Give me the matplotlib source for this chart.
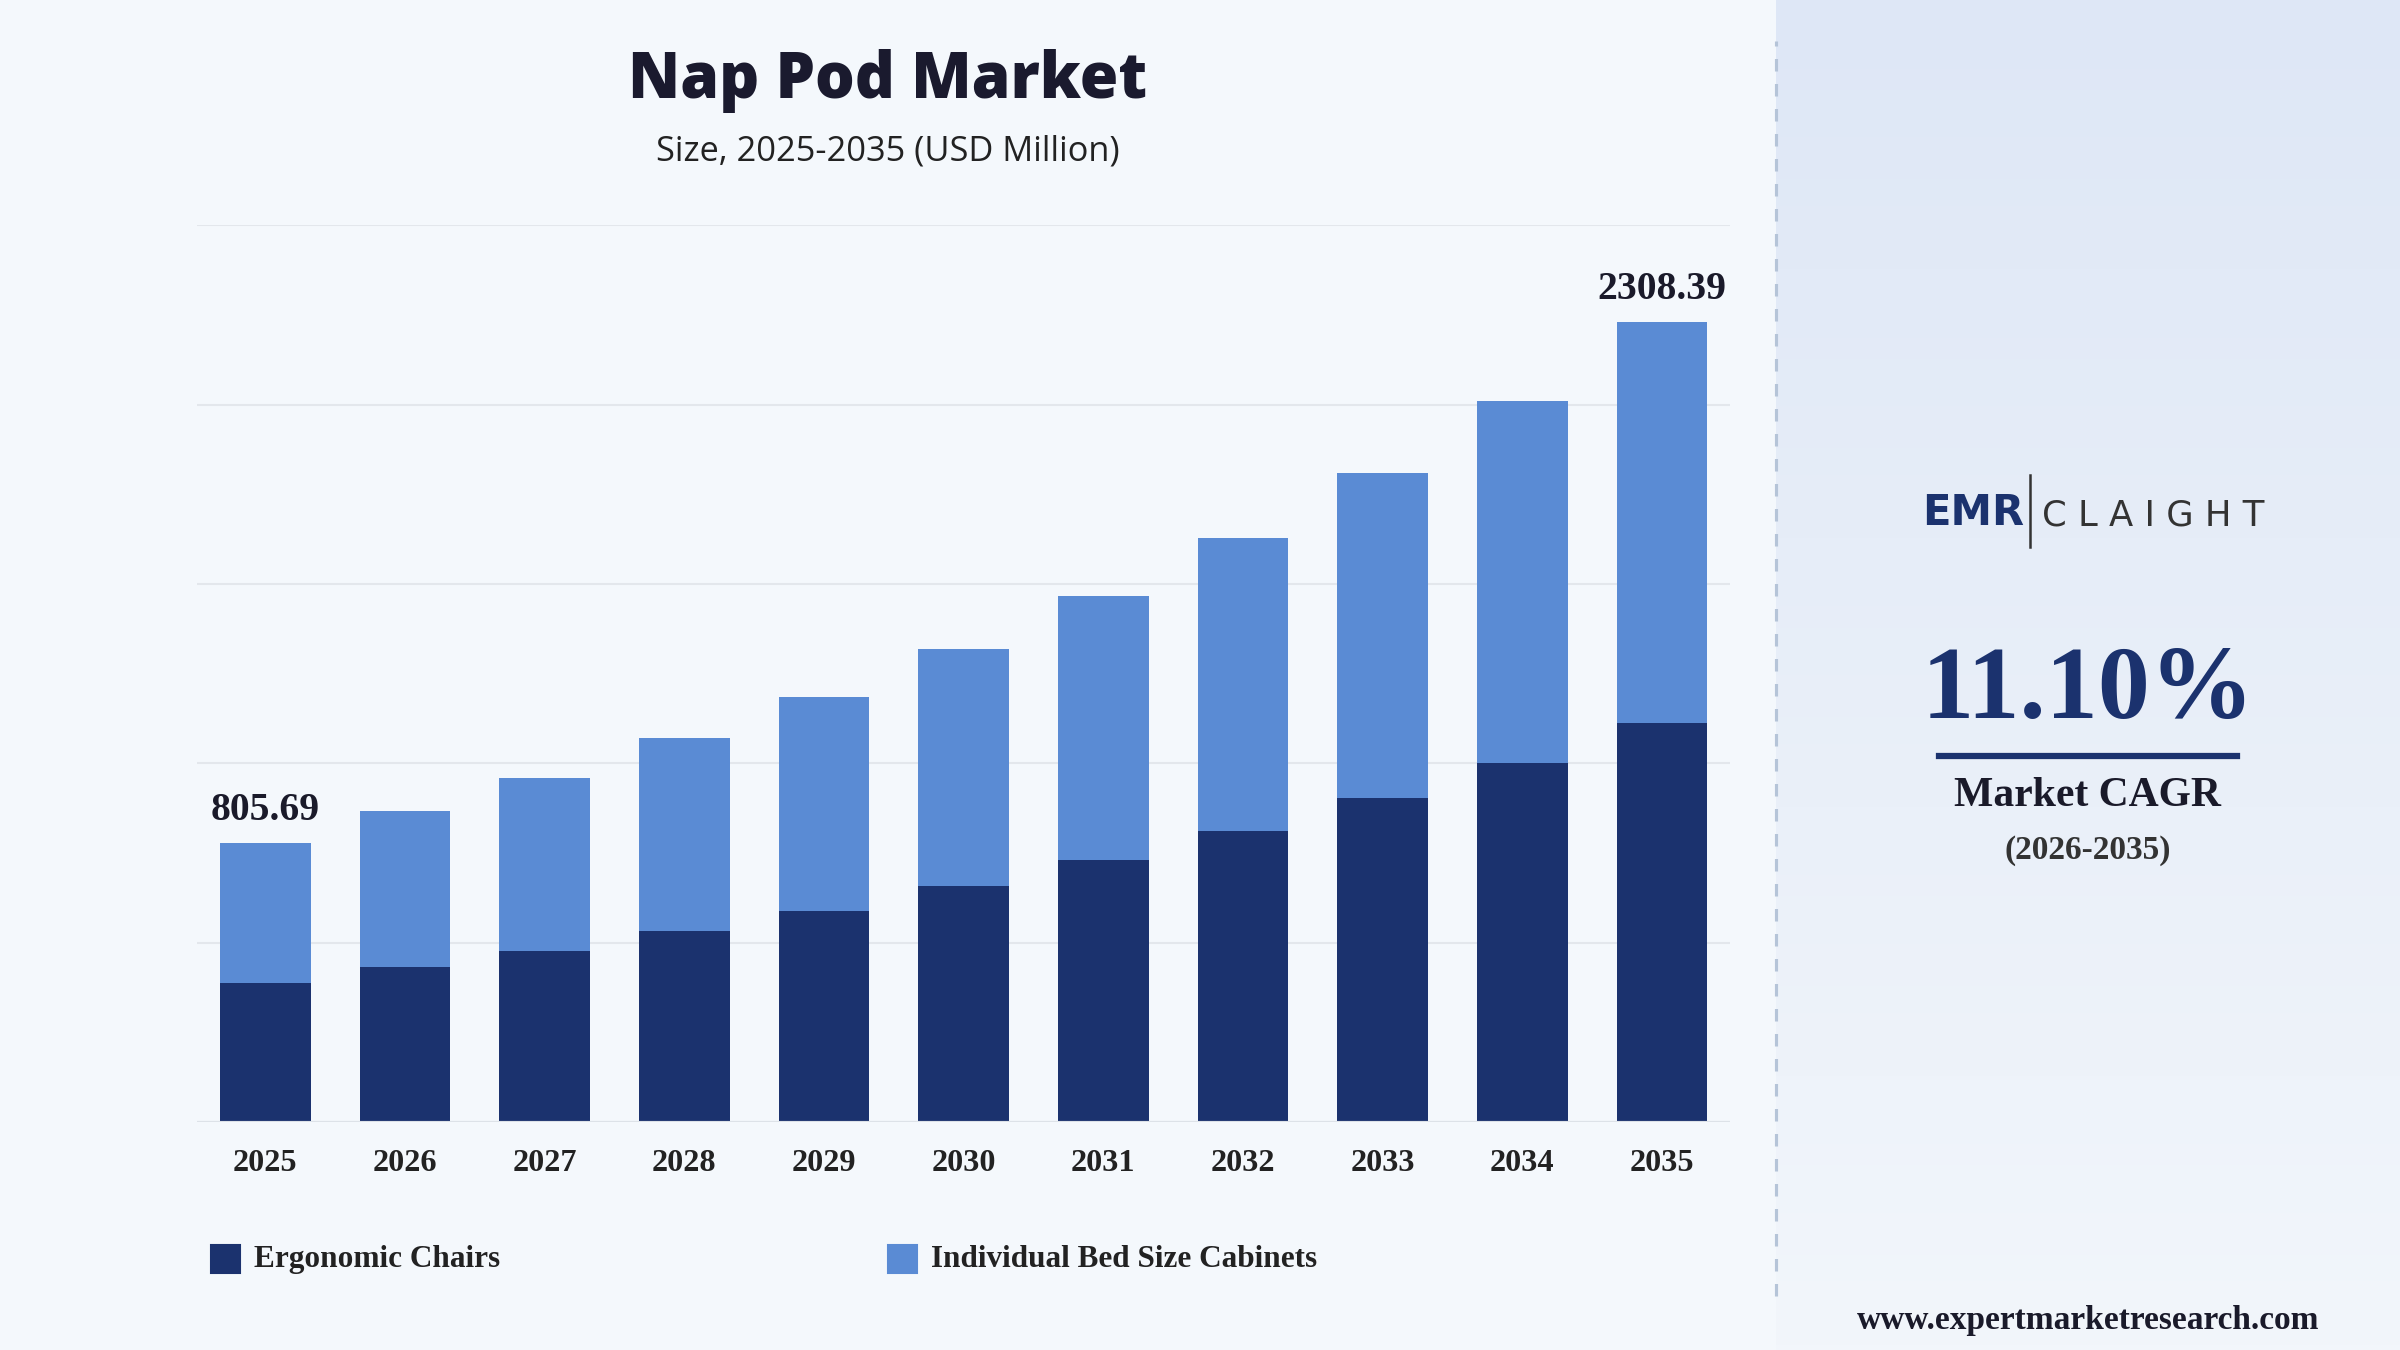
import matplotlib
matplotlib.use("Agg")
import matplotlib.pyplot as plt
import numpy as np
from matplotlib.lines import Line2D
from matplotlib.colors import LinearSegmentedColormap

years = ["2025","2026","2027","2028","2029","2030","2031","2032","2033","2034","2035"]
totals = [805.69, 896, 993, 1108, 1227, 1364, 1518, 1686, 1872, 2079, 2308.39]
ergonomic = [402, 446, 494, 552, 609, 680, 755, 839, 936, 1037, 1152]
cabinets = [t - e for t, e in zip(totals, ergonomic)]
series_names = ["Ergonomic Chairs", "Individual Bed Size Cabinets"]
dark, light = "#1b326e", "#5a8bd4"

fig = plt.figure(figsize=(16, 9), dpi=150)
fig.patch.set_facecolor("#f4f8fc")
bg = fig.add_axes([0.74, 0, 0.26, 1], zorder=0)
grad = np.linspace(0, 1, 256).reshape(-1, 1)
cm = LinearSegmentedColormap.from_list("g", ["#f2f6fb", "#dee7f6"])
bg.imshow(grad, aspect="auto", cmap=cm, extent=[0, 1, 0, 1], origin="lower")
bg.axis("off")
fig.add_artist(Line2D([0.74, 0.74], [0.04, 0.97], color="#b5c4d8", lw=1.5, ls=(0, (4, 4))))

ax = fig.add_axes([0.082, 0.169, 0.639, 0.664])
ax.set_facecolor("none")
x = np.arange(len(years))
ymax = 2587
ax.bar(x, ergonomic, 0.65, color=dark, zorder=3)
ax.bar(x, cabinets, 0.65, bottom=ergonomic, color=light, zorder=3)
ax.set_ylim(0, ymax)
ax.set_xlim(-0.49, len(years) - 0.51)
ax.set_yticks(np.linspace(0, ymax, 6))
ax.yaxis.grid(True, color="#e3e7ec", lw=1, zorder=0)
ax.tick_params(axis="y", length=0, labelleft=False)
ax.tick_params(axis="x", length=0, pad=13)
ax.set_xticks(x)
ax.set_xticklabels(years, fontfamily="Liberation Serif", fontweight="bold", fontsize=15.5, color="#222")
for s in ax.spines.values():
    s.set_visible(False)
ax.axhline(0, color="#dde2e8", lw=1.5, zorder=4)
for i in (0, len(years) - 1):
    ax.text(x[i], totals[i] + 40, f"{totals[i]:.2f}", ha="center", va="bottom",
            fontfamily="Liberation Serif", fontweight="bold", fontsize=19, color="#1a1a2a")

fig.text(0.37, 0.94, "Nap Pod Market", ha="center", va="center", fontsize=30, fontweight="heavy",
         color="#1a1a2e", fontfamily="Open Sans")
fig.text(0.37, 0.888, "Size, 2025-2035 (USD Million)", ha="center", va="center", fontsize=16.5,
         color="#222", fontfamily="Open Sans")

for xx, col, name in [(0.088, dark, series_names[0]), (0.370, light, series_names[1])]:
    fig.patches.append(plt.Rectangle((xx, 0.057), 0.012, 0.021, color=col, transform=fig.transFigure))
    fig.text(xx + 0.018, 0.067, name, va="center", fontfamily="Liberation Serif", fontweight="bold",
             fontsize=15, color="#222")

fig.text(0.822, 0.62, "EMR", ha="center", va="center", fontsize=20, fontweight="bold", color="#1b326e")
fig.add_artist(Line2D([0.846, 0.846], [0.595, 0.648], color="#333", lw=1.2))
fig.text(0.851, 0.618, "C L A I G H T", ha="left", va="center", fontsize=17, color="#333")
fig.text(0.870, 0.487, "11.10%", ha="center", va="center", fontsize=50, fontweight="bold",
         color="#1b326e", fontfamily="Liberation Serif")
fig.add_artist(Line2D([0.808, 0.932], [0.44, 0.44], color="#1b326e", lw=3))
fig.text(0.870, 0.41, "Market CAGR", ha="center", va="center", fontsize=20, fontweight="bold",
         color="#1a1a2a", fontfamily="Liberation Serif")
fig.text(0.870, 0.37, "(2026-2035)", ha="center", va="center", fontsize=16, fontweight="bold",
         color="#333", fontfamily="Liberation Serif")
fig.text(0.870, 0.022, "www.expertmarketresearch.com", ha="center", va="center", fontsize=16,
         fontweight="bold", color="#1a1a2a", fontfamily="Liberation Serif")

fig.savefig("out.png", dpi=150, facecolor=fig.get_facecolor())
